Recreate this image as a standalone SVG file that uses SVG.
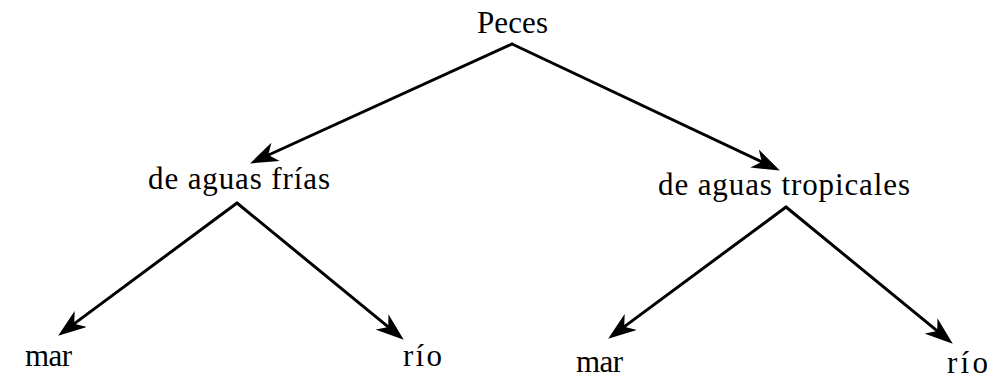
<svg xmlns="http://www.w3.org/2000/svg" width="997" height="380" viewBox="0 0 997 380">
<style>
  .lbl { font-family: "Liberation Serif", "Times New Roman", serif; font-size: 31px; fill: #000; }
  .edge { stroke: #000; stroke-width: 3; fill: none; stroke-linecap: round; marker-end: url(#arrow); }
</style>
<defs>
  <marker id="arrow" viewBox="0 0 28 20" refX="15" refY="10" markerWidth="28" markerHeight="20" markerUnits="userSpaceOnUse" orient="auto">
    <path d="M0,0 L28,10 L0,20 L8,10 Z" fill="#000"/>
  </marker>
</defs>
<rect width="997" height="380" fill="#fff"/>
<g id="connectors">
  <line class="edge" x1="512" y1="44" x2="261.9" y2="158"/>
  <line class="edge" x1="512" y1="44" x2="768.1" y2="164.9"/>
  <line class="edge" x1="237" y1="203" x2="68.6" y2="327.9"/>
  <line class="edge" x1="237" y1="203" x2="393.7" y2="331.4"/>
  <line class="edge" x1="786" y1="207" x2="618.6" y2="330.9"/>
  <line class="edge" x1="786" y1="207" x2="942.7" y2="335.4"/>
</g>
<g id="peces"><text class="lbl" x="477" y="33" textLength="71" lengthAdjust="spacing">Peces</text></g>
<g id="frias"><text class="lbl" x="148" y="189" textLength="182" lengthAdjust="spacing">de aguas frías</text></g>
<g id="tropicales"><text class="lbl" x="658" y="195" textLength="252" lengthAdjust="spacing">de aguas tropicales</text></g>
<g id="frias-mar"><text class="lbl" x="25" y="366" textLength="47" lengthAdjust="spacing">mar</text></g>
<g id="frias-rio"><text class="lbl" x="403" y="366" textLength="39" lengthAdjust="spacing">río</text></g>
<g id="tropicales-mar"><text class="lbl" x="576" y="372" textLength="47" lengthAdjust="spacing">mar</text></g>
<g id="tropicales-rio"><text class="lbl" x="947" y="373" textLength="41" lengthAdjust="spacing">río</text></g>
</svg>
